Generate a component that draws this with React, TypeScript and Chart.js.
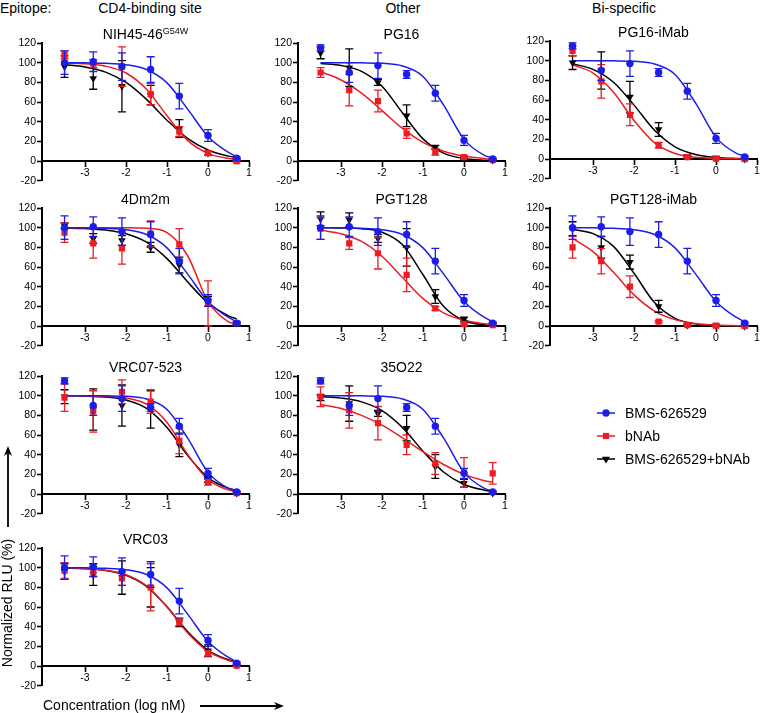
import React, { useEffect, useRef } from 'react';
import { Chart, registerables } from 'chart.js';

Chart.register(...registerables);

// ---------------- data ----------------
const doseX = [-3.5, -2.8, -2.1, -1.4, -0.7, 0, 0.7];
const fitX = [-3.5, -3, -2.5, -2, -1.5, -1, -0.5, 0, 0.5, 0.7];
const xTickValues = [-3, -2, -1, 0, 1];
const yTickValues = [-20, 0, 20, 40, 60, 80, 100, 120];

const seriesNames = ['BMS-626529', 'bNAb', 'BMS-626529+bNAb'];
const epitopes = ['Epitope:', 'CD4-binding site', 'Other', 'Bi-specific'];

// BMS-626529 (two assay sets)
const bmsA = [100, 101, 96, 93, 66, 26, 3];
const bmsAErr = [12, 10, 14, 13, 13, 6, 1];
const bmsAFit = [100, 99.8, 99.4, 97.9, 93, 79.5, 53, 25, 8.7, 4.5];
const bmsB = [115, 90, 97, 88, 69, 21, 2];
const bmsBErr = [3, 10, 13, 4, 8, 5, 1];
const bmsBFit = [100, 100, 99.8, 99.3, 96.6, 86, 57, 22, 5.7, 3.2];

// NIH45-46 G54W
const nihAb = [108, 99, 96, 68, 30, 8, 0];
const nihAbErr = [4, 4, 20, 11, 5, 2, 1];
const nihAbFit = [99.6, 98.8, 96.4, 89.5, 73, 46, 21, 7.8, 2.6, 1.7];
const nihCombo = [96, 84, 76, 67, 33, 8, 1];
const nihComboErr = [11, 11, 26, 10, 9, 2, 1];
const nihComboFit = [98, 95.7, 90.4, 79.9, 62.7, 41.5, 23, 11.2, 5, 3.6];

// PG16
const pg16Ab = [90, 72, 61, 28, 9, 4, 1];
const pg16AbErr = [5, 16, 11, 5, 3, 1, 1];
const pg16AbFit = [90.8, 82.4, 69, 51.3, 33.2, 19, 10, 5, 2.4, 1.8];
const pg16Combo = [110, 95, 80, 46, 14, 3, 1];
const pg16ComboErr = [6, 19, 3, 11, 2, 1, 1];
const pg16ComboFit = [99.1, 97.1, 91.2, 76, 48.9, 22.5, 8.1, 2.6, 0.8, 0.5];

// PG16-iMab
const pg16iAb = [110, 79, 45, 14, 2, 0.5, 0];
const pg16iAbErr = [5, 17, 11, 3, 1, 1, 0.5];
const pg16iAbFit = [95.8, 87.4, 67.9, 39.2, 16.5, 5.7, 1.8, 0.6, 0.2, 0.1];
const pg16iCombo = [98, 90, 63, 30, 3, 1, 0];
const pg16iComboErr = [7, 19, 16, 7, 1, 1, 0.5];
const pg16iComboFit = [96.8, 91.2, 78, 54.8, 29.2, 12.4, 4.6, 1.6, 0.6, 0.4];

// 4Dm2m
const dmAb = [95, 84, 79, 94, 83, 23, 3];
const dmAbErr = [10, 15, 16, 13, 16, 23, 1];
const dmAbFit = [100, 100, 100, 99.9, 99.3, 95, 71.7, 25, 4.2, 1.9];
const dmCombo = [102, 89, 87, 80, 62, 25, 3];
const dmComboErr = [3, 5, 5, 5, 8, 5, 1];
const dmComboFit = [99.7, 99.1, 97.6, 93.9, 85.3, 68.5, 45, 23.5, 10.3, 7.2];

// PGT128
const pgt128Ab = [99, 84, 74, 52, 18, 2, 1];
const pgt128AbErr = [11, 6, 16, 17, 2, 1, 1];
const pgt128AbFit = [97.5, 93.9, 86, 71, 49.3, 27.9, 13.4, 5.8, 2.4, 1.7];
const pgt128Combo = [109, 108, 89, 80, 30, 7, 2];
const pgt128ComboErr = [7, 7, 4, 19, 7, 2, 1];
const pgt128ComboFit = [99.9, 99.7, 98.9, 95.4, 82.6, 52.1, 20, 5.4, 1.3, 0.7];

// PGT128-iMab
const pgt128iAb = [80, 66, 40, 4.4, 1, 0.5, 0];
const pgt128iAbErr = [11, 13, 11, 1, 1, 1, 0.5];
const pgt128iAbFit = [89, 75.7, 54.6, 31.7, 15.2, 6.5, 2.6, 1.0, 0.4, 0.3];
const pgt128iCombo = [99, 80, 65, 20, 1, 0.5, 0];
const pgt128iComboErr = [7, 11, 7, 6, 1, 1, 0.5];
const pgt128iComboFit = [98.3, 94, 81, 53.6, 23.8, 7.8, 2.2, 0.6, 0.2, 0.1];

// VRC07-523
const vrc07Ab = [98, 84, 104, 94, 54, 12, 1];
const vrc07AbErr = [14, 21, 12, 12, 13, 3, 1];
const vrc07AbFit = [100, 99.8, 99.4, 97.6, 91.3, 72.8, 40.4, 14.7, 4.2, 2.5];
const vrc07Combo = [99, 86, 90, 86, 50, 15, 1];
const vrc07ComboErr = [7, 21, 21, 19, 12, 3, 1];
const vrc07ComboFit = [99.9, 99.6, 98.6, 95.6, 87.1, 67.6, 39.3, 16.7, 5.8, 3.7];

// 35O22
const o22Ab = [99, 85, 72, 50, 31, 22, 21];
const o22AbErr = [10, 18, 17, 10, 11, 15, 11];
const o22AbFit = [91, 87, 80, 70, 57, 43, 30, 20, 13.5, 12];
const o22Combo = [98, 92, 82, 67, 28, 11, 1];
const o22ComboErr = [3, 18, 3, 13, 12, 4, 1];
const o22ComboFit = [99.1, 97.5, 93.7, 84.8, 67.5, 43.6, 22.4, 9.7, 3.9, 2.6];

// VRC03
const vrc03Ab = [97, 96, 89, 80, 45, 13, 0.5];
const vrc03AbErr = [8, 5, 7, 24, 4, 3, 1];
const vrc03AbFit = [99.7, 99.1, 97.4, 92.8, 81.5, 60, 33.8, 14.8, 5.6, 3.7];
const vrc03Combo = [96, 93, 90, 80, 44, 15.5, 1];
const vrc03ComboErr = [8, 11, 17, 20, 4, 6, 1];
const vrc03ComboFit = [99.6, 99, 97.1, 92.3, 81, 60.2, 35, 16, 6.3, 4.3];

// ---------------- layout / style ----------------
const BLUE = '#1d1de8';
const RED = '#ec1c24';
const BLACK = '#000000';
const FONT = '"Liberation Sans", Arial, Helvetica, sans-serif';

const colX = [42, 298, 550];
const rowTop = [43, 208, 376, 548];
const PLOT_W = 207;
const PLOT_H = 139;
const AXIS_W = 40;
const PAD_T = 8;
const PAD_R = 10;
const PAD_B = 6;

type Panel = {
  title: string;
  sup?: string;
  col: number;
  row: number;
  dy?: number;
  blue: number[]; blueErr: number[]; blueFit: number[];
  red: number[]; redErr: number[]; redFit: number[];
  black: number[]; blackErr: number[]; blackFit: number[];
};

const panels: Panel[] = [
  { title: 'NIH45-46', sup: 'G54W', col: 0, row: 0, blue: bmsA, blueErr: bmsAErr, blueFit: bmsAFit, red: nihAb, redErr: nihAbErr, redFit: nihAbFit, black: nihCombo, blackErr: nihComboErr, blackFit: nihComboFit },
  { title: 'PG16', col: 1, row: 0, blue: bmsB, blueErr: bmsBErr, blueFit: bmsBFit, red: pg16Ab, redErr: pg16AbErr, redFit: pg16AbFit, black: pg16Combo, blackErr: pg16ComboErr, blackFit: pg16ComboFit },
  { title: 'PG16-iMab', col: 2, row: 0, dy: -2, blue: bmsB, blueErr: bmsBErr, blueFit: bmsBFit, red: pg16iAb, redErr: pg16iAbErr, redFit: pg16iAbFit, black: pg16iCombo, blackErr: pg16iComboErr, blackFit: pg16iComboFit },
  { title: '4Dm2m', col: 0, row: 1, blue: bmsA, blueErr: bmsAErr, blueFit: bmsAFit, red: dmAb, redErr: dmAbErr, redFit: dmAbFit, black: dmCombo, blackErr: dmComboErr, blackFit: dmComboFit },
  { title: 'PGT128', col: 1, row: 1, blue: bmsA, blueErr: bmsAErr, blueFit: bmsAFit, red: pgt128Ab, redErr: pgt128AbErr, redFit: pgt128AbFit, black: pgt128Combo, blackErr: pgt128ComboErr, blackFit: pgt128ComboFit },
  { title: 'PGT128-iMab', col: 2, row: 1, blue: bmsA, blueErr: bmsAErr, blueFit: bmsAFit, red: pgt128iAb, redErr: pgt128iAbErr, redFit: pgt128iAbFit, black: pgt128iCombo, blackErr: pgt128iComboErr, blackFit: pgt128iComboFit },
  { title: 'VRC07-523', col: 0, row: 2, blue: bmsB, blueErr: bmsBErr, blueFit: bmsBFit, red: vrc07Ab, redErr: vrc07AbErr, redFit: vrc07AbFit, black: vrc07Combo, blackErr: vrc07ComboErr, blackFit: vrc07ComboFit },
  { title: '35O22', col: 1, row: 2, blue: bmsB, blueErr: bmsBErr, blueFit: bmsBFit, red: o22Ab, redErr: o22AbErr, redFit: o22AbFit, black: o22Combo, blackErr: o22ComboErr, blackFit: o22ComboFit },
  { title: 'VRC03', col: 0, row: 3, blue: bmsA, blueErr: bmsAErr, blueFit: bmsAFit, red: vrc03Ab, redErr: vrc03AbErr, redFit: vrc03AbFit, black: vrc03Combo, blackErr: vrc03ComboErr, blackFit: vrc03ComboFit },
];

const errorBarPlugin = {
  id: 'errorBars',
  beforeDatasetDraw(chart: any, args: any) {
    const ds = chart.data.datasets[args.index];
    if (!ds.errors) return;
    const ys = chart.scales.y;
    const ctx = chart.ctx;
    ctx.save();
    ctx.strokeStyle = ds.borderColor;
    ctx.lineWidth = 1.3;
    args.meta.data.forEach((el: any, i: number) => {
      const v = ds.data[i].y;
      const e = ds.errors[i];
      const x = el.x;
      const yt = ys.getPixelForValue(v + e);
      const yb = ys.getPixelForValue(v - e);
      ctx.beginPath();
      ctx.moveTo(x, yt); ctx.lineTo(x, yb);
      ctx.moveTo(x - 4, yt); ctx.lineTo(x + 4, yt);
      ctx.moveTo(x - 4, yb); ctx.lineTo(x + 4, yb);
      ctx.stroke();
    });
    ctx.restore();
  },
};

const pts = (xs: number[], ys: number[]) => xs.map((x, i) => ({ x, y: ys[i] }));

function PanelChart({ p }: { p: Panel }) {
  const ref = useRef<HTMLCanvasElement>(null);
  const top = rowTop[p.row] + (p.dy || 0);
  const left = colX[p.col];
  const W = AXIS_W + PLOT_W + PAD_R;
  const H = PAD_T + PLOT_H + PAD_B;

  useEffect(() => {
    const tickFont = { family: FONT, size: 10.5 };
    const pointDs = (label: string, data: number[], err: number[], color: string, style: string, radius: number, rot: number, order: number) => ({
      label,
      data: pts(doseX, data),
      errors: err,
      borderColor: color,
      backgroundColor: color,
      pointStyle: style,
      pointRadius: radius,
      pointRotation: rot,
      pointBorderWidth: 0,
      showLine: false,
      order,
    });
    const fitDs = (label: string, data: number[], color: string, order: number) => ({
      label,
      data: pts(fitX, data),
      borderColor: color,
      backgroundColor: color,
      borderWidth: 1.5,
      pointRadius: 0,
      showLine: true,
      cubicInterpolationMode: 'monotone',
      order,
    });
    const chart = new Chart(ref.current as HTMLCanvasElement, {
      type: 'scatter',
      data: {
        datasets: [
          pointDs(seriesNames[0], p.blue, p.blueErr, BLUE, 'circle', 3.7, 0, 0),
          pointDs(seriesNames[1], p.red, p.redErr, RED, 'rect', 4.4, 0, 1),
          pointDs(seriesNames[2], p.black, p.blackErr, BLACK, 'triangle', 4.4, 180, 2),
          fitDs(seriesNames[0] + ' fit', p.blueFit, BLUE, 3),
          fitDs(seriesNames[1] + ' fit', p.redFit, RED, 4),
          fitDs(seriesNames[2] + ' fit', p.blackFit, BLACK, 5),
        ] as any,
      },
      options: {
        responsive: false,
        animation: false,
        events: [],
        layout: { padding: { left: 0, top: PAD_T, right: PAD_R, bottom: PAD_B } },
        plugins: { legend: { display: false }, tooltip: { enabled: false }, title: { display: false } },
        scales: {
          x: {
            type: 'linear',
            position: { y: 0 } as any,
            min: -4.05,
            max: 1,
            afterBuildTicks: (s: any) => { s.ticks = xTickValues.map((v) => ({ value: v })); },
            ticks: { font: tickFont, color: '#000', padding: 1, autoSkip: false, maxRotation: 0, callback: (v: any) => String(v) },
            grid: { drawOnChartArea: false, drawTicks: true, tickLength: 5, tickColor: '#000', tickWidth: 1.6 },
            border: { display: true, color: '#000', width: 2 },
          },
          y: {
            type: 'linear',
            position: 'left',
            min: -20,
            max: 120,
            afterBuildTicks: (s: any) => { s.ticks = yTickValues.map((v) => ({ value: v })); },
            afterFit: (s: any) => { s.width = AXIS_W; },
            ticks: { font: tickFont, color: '#000', padding: 1, callback: (v: any) => String(v) },
            grid: { drawOnChartArea: false, drawTicks: true, tickLength: 5, tickColor: '#000', tickWidth: 1.6 },
            border: { display: true, color: '#000', width: 2 },
          },
        },
      } as any,
      plugins: [errorBarPlugin],
    });
    return () => chart.destroy();
  }, []);

  return (
    <>
      <canvas
        ref={ref}
        width={W}
        height={H}
        style={{ position: 'absolute', left: left - AXIS_W, top: top - PAD_T, width: W, height: H }}
      />
      <div
        style={{
          position: 'absolute', left, top: top - 17, width: PLOT_W, height: 16, lineHeight: '16px',
          textAlign: 'center', fontSize: 14, fontFamily: FONT, color: '#000', whiteSpace: 'nowrap',
        }}
      >
        {p.title}
        {p.sup ? <span style={{ fontSize: 9, verticalAlign: 5, lineHeight: '9px' }}>{p.sup}</span> : null}
      </div>
    </>
  );
}

const headerPos = [
  { left: 0, center: false },
  { left: 150, center: true },
  { left: 403, center: true },
  { left: 624, center: true },
];

const legendRows = [413, 436, 459];
const legendColors = [BLUE, RED, BLACK];

export default function App() {
  const text: React.CSSProperties = { position: 'absolute', fontFamily: FONT, fontSize: 14, color: '#000', whiteSpace: 'nowrap', lineHeight: '16px' };
  return (
    <div style={{ position: 'absolute', left: 0, top: 0, width: 760, height: 713, background: '#fff', overflow: 'hidden' }}>
      {epitopes.map((t, i) => (
        <div
          key={t}
          style={{
            ...text,
            top: 0,
            left: headerPos[i].center ? headerPos[i].left - 100 : headerPos[i].left,
            width: headerPos[i].center ? 200 : undefined,
            textAlign: headerPos[i].center ? 'center' : 'left',
          }}
        >
          {t}
        </div>
      ))}
      {panels.map((p) => <PanelChart key={p.title} p={p} />)}

      {/* legend */}
      <svg width={760} height={713} style={{ position: 'absolute', left: 0, top: 0, pointerEvents: 'none' }}>
        {legendRows.map((y, i) => (
          <g key={i}>
            <line x1={597} x2={615} y1={y} y2={y} stroke={legendColors[i]} strokeWidth={1.5} />
            {i === 0 && <circle cx={606} cy={y} r={3.7} fill={BLUE} />}
            {i === 1 && <rect x={602.9} y={y - 3.1} width={6.2} height={6.2} fill={RED} />}
            {i === 2 && <polygon points={`${602},${y - 2.2} ${610},${y - 2.2} ${606},${y + 4.4}`} fill={BLACK} />}
          </g>
        ))}
        {/* y-axis arrow */}
        <line x1={8} y1={527} x2={8} y2={452} stroke="#000" strokeWidth={1.8} />
        <polygon points="8,446 4,456 8,453 12,456" fill="#000" />
        {/* x-axis arrow */}
        <line x1={200} y1={706} x2={278} y2={706} stroke="#000" strokeWidth={1.8} />
        <polygon points="284,706 274,702 277,706 274,710" fill="#000" />
      </svg>
      {seriesNames.map((n, i) => (
        <div key={n} style={{ ...text, left: 625, top: legendRows[i] - 8 }}>{n}</div>
      ))}

      {/* axis titles */}
      <div
        style={{
          ...text, left: 7 - 100, top: 603 - 8, width: 200, textAlign: 'center',
          transform: 'rotate(-90deg)', transformOrigin: '50% 50%',
        }}
      >
        Normalized RLU (%)
      </div>
      <div style={{ ...text, left: 43, top: 697 }}>Concentration (log nM)</div>
    </div>
  );
}
